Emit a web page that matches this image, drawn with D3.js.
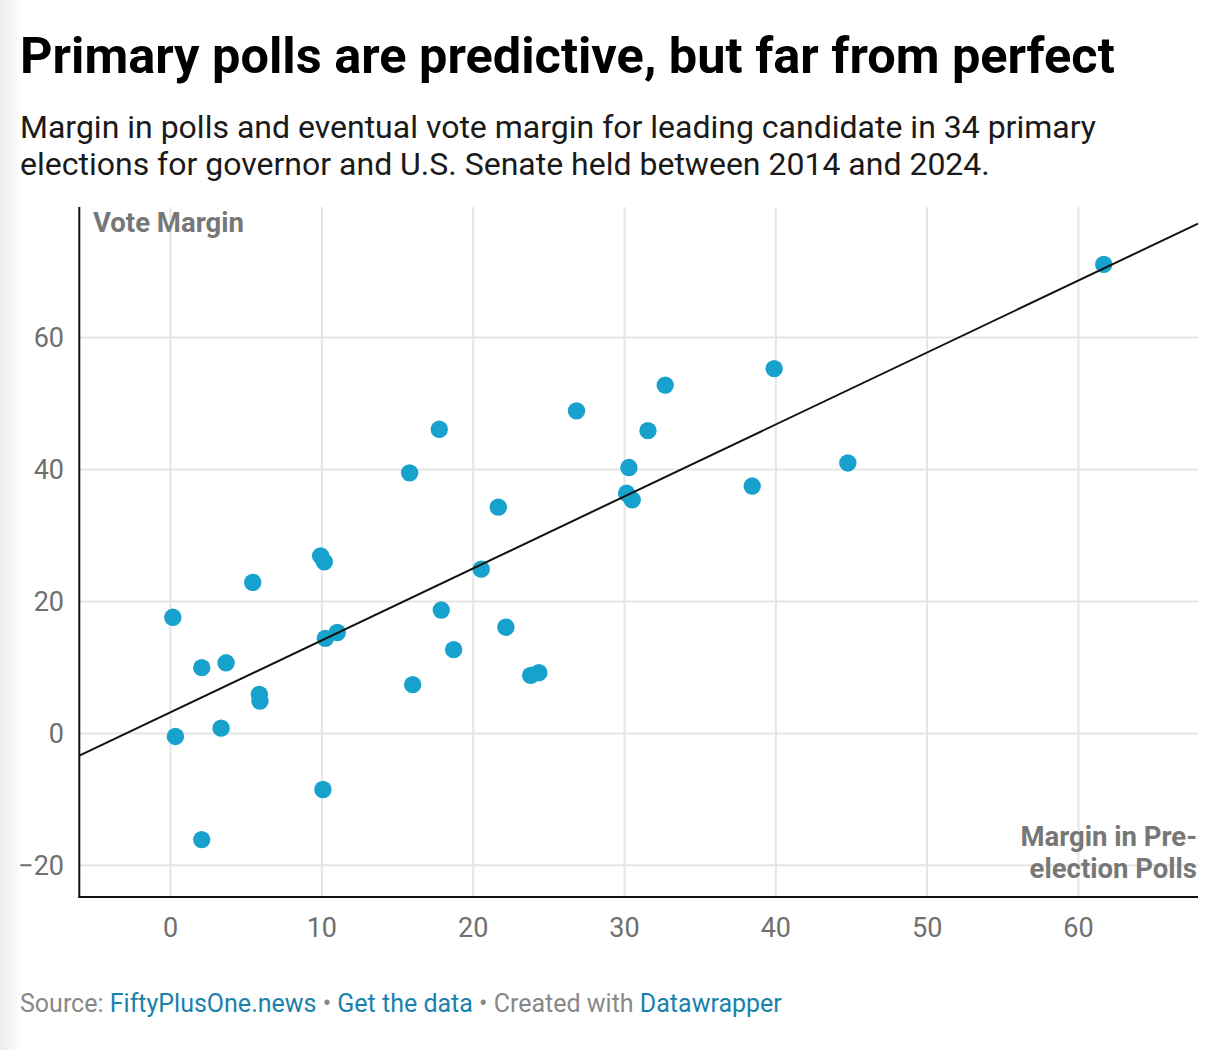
<!DOCTYPE html>
<html>
<head>
<meta charset="utf-8">
<script src="https://cdn.jsdelivr.net/npm/d3@7"></script>
<style>
  body { margin: 0; background: #fff; }
  svg { display: block; font-family: Roboto, "Noto Sans", sans-serif; }
  .title { font-weight: 700; fill: #000; }
  .subtitle { fill: #1a1a1a; }
  .tick-label { fill: #6f6f6f; }
  .axis-title { font-weight: 700; fill: #777; }
  .footer { fill: #888; }
  .footer .link { fill: #1a81ad; }
</style>
</head>
<body>
<svg width="1220" height="1050"></svg>
<script>
// poll margin (x) and eventual vote margin (y), 34 primaries
let pollMargin = [0.15, 0.32, 2.06, 2.06, 3.34, 3.67, 5.43, 5.87, 5.91, 9.92, 10.16, 10.07,
  10.23, 11.02, 15.8, 16.0, 17.76, 17.89, 18.71, 20.53, 21.66, 22.16, 23.8, 24.34,
  26.83, 30.14, 30.29, 30.51, 31.55, 32.69, 38.44, 39.89, 44.76, 61.67];
let voteMargin = [17.6, -0.46, 9.97, -16.1, 0.8, 10.7, 22.9, 5.92, 4.9, 26.9, 26.0, -8.5,
  14.4, 15.3, 39.5, 7.39, 46.1, 18.7, 12.7, 24.9, 34.3, 16.1, 8.8, 9.2,
  48.9, 36.4, 40.3, 35.4, 45.9, 52.8, 37.5, 55.3, 41.0, 71.1];

let xTicks = [0, 10, 20, 30, 40, 50, 60];
let yTicks = [-20, 0, 20, 40, 60];

// trend line
let trendSlope = 1.091;
let trendIntercept = 3.2;

let svg = d3.select("svg");

let plot = { left: 79.3, right: 1198, top: 207, bottom: 897 };

let xScale = d3.scaleLinear().domain([-6.03, 67.9]).range([plot.left, plot.right]);
let yScale = d3.scaleLinear().domain([-24.8, 79.8]).range([plot.bottom, plot.top]);

// faint shade on the left edge
let defs = svg.append("defs");
let grad = defs.append("linearGradient").attr("id", "edge").attr("x1", 0).attr("x2", 1);
grad.append("stop").attr("offset", 0).attr("stop-color", "#ececec");
grad.append("stop").attr("offset", 1).attr("stop-color", "#fff");
svg.append("rect").attr("width", 22).attr("height", 1050).attr("fill", "url(#edge)");

// header
svg.append("text")
  .attr("class", "title")
  .attr("x", 20).attr("y", 73)
  .attr("font-size", 50.5)
  .text("Primary polls are predictive, but far from perfect");

let subLines = [
  "Margin in polls and eventual vote margin for leading candidate in 34 primary",
  "elections for governor and U.S. Senate held between 2014 and 2024."
];
svg.append("g").selectAll("text")
  .data(subLines)
  .enter()
  .append("text")
  .attr("class", "subtitle")
  .attr("x", 20)
  .attr("y", (_, i) => 138 + i * 37)
  .attr("font-size", 32)
  .text(d => d);

// grid
let gGrid = svg.append("g");
gGrid.selectAll(".vgrid")
  .data(xTicks)
  .enter()
  .append("line")
  .attr("x1", d => xScale(d)).attr("x2", d => xScale(d))
  .attr("y1", plot.top).attr("y2", plot.bottom)
  .attr("stroke", "#e5e5e5").attr("stroke-width", 2);
gGrid.selectAll(".hgrid")
  .data(yTicks)
  .enter()
  .append("line")
  .attr("x1", plot.left).attr("x2", plot.right)
  .attr("y1", d => yScale(d)).attr("y2", d => yScale(d))
  .attr("stroke", "#e5e5e5").attr("stroke-width", 2);

// tick labels
let fmt = d => d < 0 ? "\u2212" + Math.abs(d) : String(d);
svg.append("g").selectAll("text")
  .data(yTicks)
  .enter()
  .append("text")
  .attr("class", "tick-label")
  .attr("x", 64)
  .attr("y", d => yScale(d))
  .attr("dy", "0.35em")
  .attr("text-anchor", "end")
  .attr("font-size", 27)
  .text(fmt);
svg.append("g").selectAll("text")
  .data(xTicks)
  .enter()
  .append("text")
  .attr("class", "tick-label")
  .attr("x", d => xScale(d))
  .attr("y", 928)
  .attr("dy", "0.35em")
  .attr("text-anchor", "middle")
  .attr("font-size", 27)
  .text(fmt);

// axis titles
svg.append("text")
  .attr("class", "axis-title")
  .attr("x", 93).attr("y", 232)
  .attr("font-size", 27.5)
  .text("Vote Margin");
svg.append("g").selectAll("text")
  .data(["Margin in Pre-", "election Polls"])
  .enter()
  .append("text")
  .attr("class", "axis-title")
  .attr("x", 1197)
  .attr("y", (_, i) => 846 + i * 32)
  .attr("text-anchor", "end")
  .attr("font-size", 27.5)
  .text(d => d);

// dots
let points = pollMargin.map((d, i) => ({ x: d, y: voteMargin[i] }));
svg.append("g").selectAll("circle")
  .data(points)
  .enter()
  .append("circle")
  .attr("cx", d => xScale(d.x))
  .attr("cy", d => yScale(d.y))
  .attr("r", 8.7)
  .attr("fill", "#17a1cd");

// trend line across the full x range
let [x0, x1] = xScale.domain();
svg.append("line")
  .attr("x1", xScale(x0)).attr("y1", yScale(trendIntercept + trendSlope * x0))
  .attr("x2", xScale(x1)).attr("y2", yScale(trendIntercept + trendSlope * x1))
  .attr("stroke", "#111").attr("stroke-width", 2);

// axes
svg.append("line")
  .attr("x1", plot.left).attr("x2", plot.left)
  .attr("y1", plot.top).attr("y2", plot.bottom)
  .attr("stroke", "#111").attr("stroke-width", 2);
svg.append("line")
  .attr("x1", plot.left - 1).attr("x2", plot.right)
  .attr("y1", plot.bottom).attr("y2", plot.bottom)
  .attr("stroke", "#111").attr("stroke-width", 2);

// footer
let footer = svg.append("text")
  .attr("class", "footer")
  .attr("x", 20).attr("y", 1012)
  .attr("font-size", 25);
let footerParts = [
  ["Source: ", false], ["FiftyPlusOne.news", true], [" \u2022 ", false],
  ["Get the data", true], [" \u2022 Created with ", false], ["Datawrapper", true]
];
footerParts.forEach(([t, link]) => {
  footer.append("tspan").attr("class", link ? "link" : null).text(t);
});
</script>
</body>
</html>
